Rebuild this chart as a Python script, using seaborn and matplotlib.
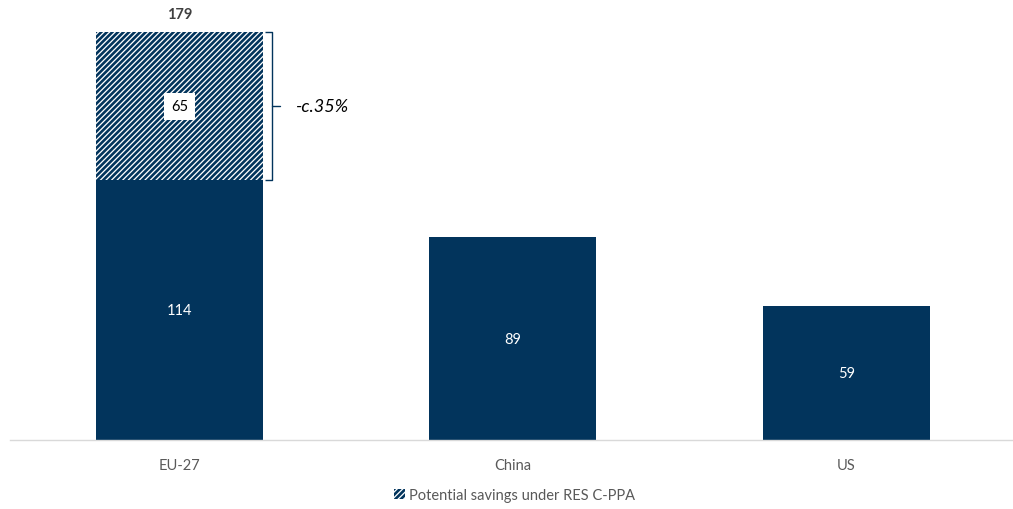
import matplotlib
matplotlib.use("Agg")
import matplotlib.pyplot as plt
import matplotlib.patches as mpatches
import seaborn as sns
import pandas as pd

categories = ["EU-27", "China", "US"]
base_values = [114, 89, 59]
savings_values = [65, 0, 0]
savings_label = "Potential savings under RES C-PPA"
bracket_text = "-c.35%"

NAVY = "#02345C"
GRAY = "#595959"

sns.set_theme(style="white")
plt.rcParams["font.family"] = ["Lato", "DejaVu Sans"]
plt.rcParams["hatch.linewidth"] = 1.9
plt.rcParams["hatch.color"] = NAVY

totals = [b + s for b, s in zip(base_values, savings_values)]
df = pd.DataFrame({"cat": categories, "base": base_values, "total": totals})

fig = plt.figure(figsize=(10.13, 5.10), dpi=100)
ax = fig.add_axes([10 / 1013, 69 / 510, 1 - 10 / 1013, 441 / 510])

# totals (hatched savings part)
sns.barplot(data=df, x="cat", y="total", color="white", width=0.5, ax=ax,
            saturation=1, linewidth=0)
for i, p in enumerate(ax.patches):
    if savings_values[i] > 0:
        p.set_hatch("//////")
        p.set_edgecolor(NAVY)
        p.set_facecolor("white")
        p.set_linewidth(0)
sns.barplot(data=df, x="cat", y="base", color=NAVY, width=0.5, ax=ax,
            saturation=1, linewidth=0)

ax.set_xlim(-0.508, 2.5)
ax.set_ylim(0, 193.5)
ax.set_xlabel("")
ax.set_ylabel("")
ax.set_yticks([])
for s in ["top", "left", "right"]:
    ax.spines[s].set_visible(False)
ax.spines["bottom"].set_color("#D9D9D9")
ax.spines["bottom"].set_linewidth(1)
ax.tick_params(axis="x", length=0, pad=13, labelsize=10.5, labelcolor=GRAY)

# labels
for i, (b, s, t) in enumerate(zip(base_values, savings_values, totals)):
    ax.text(i, b / 2, f"{b}", ha="center", va="center", color="white", fontsize=10.5)
    if s > 0:
        ax.text(i, b + s / 2, f"{s}", ha="center", va="center", color="black",
                fontsize=10.5, bbox=dict(boxstyle="square,pad=0.45", fc="white", ec="none"))
        ax.text(i, t + 5, f"{t}", ha="center", va="bottom", color="#404040",
                fontsize=10.5, fontweight="bold")

        # bracket
        px = 1 / 333.5
        xb = 0.25 + 9 * px
        lo, hi = b, t
        ax.plot([0.25 + 2 * px, xb, xb, 0.25 + 2 * px], [hi, hi, lo, lo],
                color=NAVY, lw=1.0, solid_capstyle="butt", clip_on=False)
        ax.plot([xb, xb + 8 * px], [(lo + hi) / 2] * 2, color=NAVY, lw=1.0, clip_on=False)
        ax.text(xb + 24 * px, (lo + hi) / 2, bracket_text, ha="left", va="center",
                fontsize=13, fontstyle="italic", color="black")

handle = mpatches.Patch(facecolor="white", edgecolor=NAVY, hatch="//////", linewidth=0,
                        label=savings_label)
fig.legend(handles=[handle], loc="center", bbox_to_anchor=(0.508, 0.027), frameon=False,
           fontsize=10.5, labelcolor=GRAY, handlelength=0.7, handleheight=0.7, handletextpad=0.3)

fig.savefig("out.png", dpi=100)
